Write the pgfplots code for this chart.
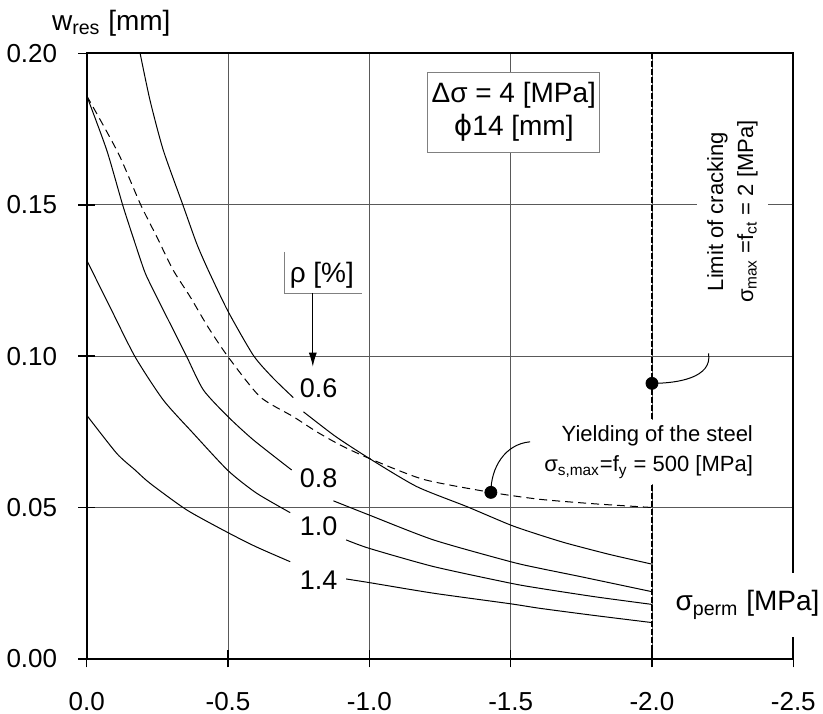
\documentclass[border=0pt]{standalone}
\usepackage{pgfplots}
\pgfplotsset{compat=1.18}
\usepackage{fontspec}
\setmainfont{Liberation Sans}
\newfontfamily\dejavu{DejaVu Sans}
\usetikzlibrary{arrows.meta}

\begin{document}
\begin{tikzpicture}
\useasboundingbox (-43.35pt,-27.5pt) rectangle (368.15pt,329.45pt);
\begin{axis}[
    at={(0,0)}, anchor=south west,
    scale only axis,
    width=353.3pt, height=302.8pt,
    x dir=reverse,
    xmin=-2.5, xmax=0, ymin=0, ymax=0.2,
    xtick={0,-0.5,-1,-1.5,-2,-2.5},
    xticklabels={0.0,-0.5,-1.0,-1.5,-2.0,-2.5},
    ytick={0,0.05,0.1,0.15,0.2},
    yticklabels={0.00,0.05,0.10,0.15,0.20},
    xtick pos=bottom, ytick pos=left,
    tick align=center, major tick length=8.5pt,
    major tick style={black, line width=0.8pt},
    axis line style={line width=1pt},
    grid=major,
    major grid style={black!65, line width=0.4pt},
    tick label style={font=\fontsize{13}{15}\selectfont},
    xticklabel style={yshift=-9pt},
    yticklabel style={xshift=-7pt},
    clip=false,
]
% limit of cracking
\addplot[black, line width=1pt, dash pattern=on 3pt off 1pt] coordinates {(-2,0) (-2,0.2)};

% yielding of the steel (dashed)
\addplot[black, line width=0.5pt, dash pattern=on 4pt off 2.5pt, smooth, tension=0.4] coordinates {
 (0,0.186) (-0.06,0.176) (-0.118,0.1658) (-0.191,0.150) (-0.248,0.1394) (-0.306,0.1284)
 (-0.366,0.1196) (-0.43,0.1095) (-0.5,0.0998) (-0.613,0.0866) (-0.731,0.080) (-0.814,0.075)
 (-0.90,0.0705) (-1.0,0.0662) (-1.191,0.0593) (-1.43,0.055) (-1.604,0.0527) (-1.8,0.0512) (-2.0,0.0500)};

% rho = 0.6
\addplot[black, line width=0.5pt, smooth, tension=0.4] coordinates {
 (-0.189,0.200) (-0.224,0.1845) (-0.271,0.168) (-0.340,0.150) (-0.389,0.1372) (-0.430,0.1284)
 (-0.500,0.1148) (-0.590,0.1002) (-0.660,0.0927) (-0.731,0.0863)};
\addplot[black, line width=0.5pt, smooth, tension=0.4] coordinates {
 (-0.767,0.0816) (-0.880,0.0735) (-1.000,0.0662) (-1.168,0.0569) (-1.345,0.0503) (-1.500,0.0442)
 (-1.604,0.0409) (-1.698,0.0382) (-1.850,0.0345) (-2.000,0.0313)};

% rho = 0.8
\addplot[black, line width=0.5pt, smooth, tension=0.4] coordinates {
 (0,0.186) (-0.071,0.168) (-0.127,0.150) (-0.165,0.139) (-0.203,0.1284) (-0.224,0.124)
 (-0.283,0.113) (-0.354,0.0998) (-0.413,0.0888) (-0.5,0.080) (-0.59,0.0723) (-0.725,0.0624)};
\addplot[black, line width=0.5pt, smooth, tension=0.4] coordinates {
 (-0.873,0.0522) (-1.0,0.0475) (-1.227,0.0393) (-1.5,0.0321) (-1.604,0.0299) (-1.746,0.0272) (-2.0,0.0222)};

% rho = 1.0
\addplot[black, line width=0.5pt, smooth, tension=0.4] coordinates {
 (0,0.1317) (-0.082,0.1163) (-0.171,0.0998) (-0.271,0.0855) (-0.377,0.0745) (-0.5,0.0622) (-0.6,0.0548) (-0.72,0.0483)};
\addplot[black, line width=0.5pt, smooth, tension=0.4] coordinates {
 (-0.918,0.0393) (-1.0,0.0365) (-1.227,0.0305) (-1.5,0.025) (-1.604,0.0233) (-1.8,0.0205) (-2.0,0.018)};

% rho = 1.4
\addplot[black, line width=0.5pt, smooth, tension=0.4] coordinates {
 (0,0.0805) (-0.106,0.0679) (-0.171,0.0624) (-0.224,0.058) (-0.354,0.0492) (-0.5,0.0417) (-0.6,0.037) (-0.72,0.0321)};
\addplot[black, line width=0.5pt, smooth, tension=0.4] coordinates {
 (-0.918,0.0264) (-1.0,0.0252) (-1.227,0.0217) (-1.5,0.0182) (-1.604,0.0167) (-1.8,0.0143) (-2.0,0.012)};

% marker points
\addplot[only marks, mark=*, mark size=3pt, black] coordinates {(-1.43,0.055) (-2.0,0.091)};

% leaders
\draw[black, line width=0.5pt] (axis cs:-1.569,0.0717) to[out=185,in=90] (axis cs:-1.43,0.055);
\draw[black, line width=0.5pt] (axis cs:-2.0,0.091) to[out=0,in=-80] (axis cs:-2.2,0.1009);

% curve labels
\begin{scope}[every node/.style={fill=white, inner sep=2.5pt, font=\fontsize{13.5}{16}\selectfont}]
\node at (axis cs:-0.821,0.0894) {0.6};
\node at (axis cs:-0.821,0.0596) {0.8};
\node at (axis cs:-0.821,0.0439) {1.0};
\node at (axis cs:-0.821,0.0261) {1.4};
\end{scope}

% rho label
\draw[gray, line width=0.4pt] (axis cs:-0.699,0.1344) |- (axis cs:-0.973,0.1207);
\node[font=\fontsize{14}{16}\selectfont] at (axis cs:-0.832,0.1267) {ρ [\%]};
\draw[black, line width=0.5pt, -{Latex[length=7pt,width=4pt]}] (axis cs:-0.8,0.1207) -- (axis cs:-0.8,0.0965);

% parameter box
\node[draw=gray, line width=0.5pt, fill=white, align=center, minimum width=85.8pt, minimum height=40pt,
      inner sep=2pt, font=\fontsize{14}{16.5}\selectfont] at (axis cs:-1.511,0.1806)
      {Δσ = 4 [MPa]\\{\dejavu ϕ}14 [mm]};

% limit of cracking
\node[rotate=90, fill=white, align=center, inner xsep=2pt, inner ysep=5pt,
      font=\fontsize{11}{15}\selectfont] at (axis cs:-2.285,0.1477)
      {Limit of cracking\\σ\textsubscript{max} =f\textsubscript{ct} = 2 [MPa]};

% yielding of the steel
\node[fill=white, align=right, inner sep=3pt, font=\fontsize{11}{15}\selectfont] at (axis cs:-1.988,0.0683)
      {Yielding of the steel\\σ\textsubscript{s,max}=f\textsubscript{y} = 500 [MPa]};

% axis titles
\node[fill=white, inner xsep=1pt, minimum height=32pt, font=\fontsize{14}{16}\selectfont] at (axis cs:-2.338,0.0178)
      {σ\textsubscript{perm} [MPa]};
\node[anchor=base west, inner sep=0pt, font=\fontsize{14}{16}\selectfont] at (axis cs:0.124,0.2076)
      {w\textsubscript{res} [mm]};
\end{axis}
\end{tikzpicture}
\end{document}
